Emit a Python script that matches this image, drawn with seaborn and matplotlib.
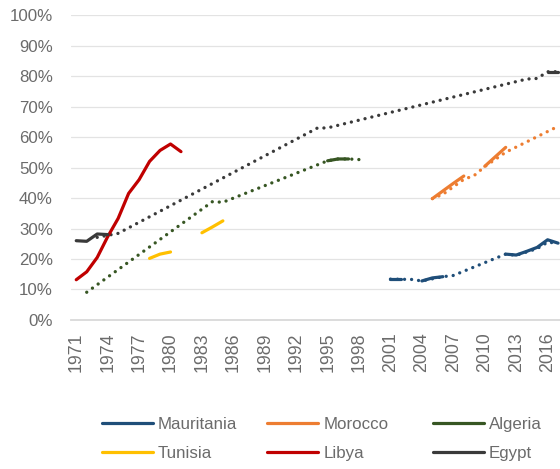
import pandas as pd
import matplotlib.pyplot as plt
import seaborn as sns
from matplotlib.lines import Line2D
from matplotlib.ticker import FuncFormatter

sns.set_theme(style="white")
plt.rcParams['font.family'] = ['Liberation Sans', 'DejaVu Sans']

# observed values (solid lines), percent
mau_years = [2001, 2002, 2004, 2005, 2006, 2012, 2013, 2014, 2015, 2016, 2017]
mau_vals = [13.4, 13.4, 12.8, 13.8, 14.2, 21.6, 21.3, 22.5, 23.8, 26.3, 25.2]
mor_years = [2005, 2006, 2007, 2008, 2010, 2011, 2012]
mor_vals = [39.8, 42.3, 44.8, 47.2, 50.4, 53.5, 56.6]
alg_years = [1995, 1996, 1997]
alg_vals = [52.2, 52.8, 52.8]
tun_years = [1978, 1979, 1980, 1983, 1984, 1985]
tun_vals = [20.2, 21.6, 22.3, 28.6, 30.5, 32.5]
lib_years = [1971, 1972, 1973, 1974, 1975, 1976, 1977, 1978, 1979, 1980, 1981]
lib_vals = [13.2, 15.8, 20.5, 27.3, 33.3, 41.5, 46.0, 52.0, 55.6, 57.7, 55.2]
egy_years = [1971, 1972, 1973, 1974, 2016, 2017]
egy_vals = [26.0, 25.8, 28.2, 28.0, 81.4, 81.4]

# estimates bridging the gaps (dotted lines), percent
mau_dot_years = [2001, 2003, 2004, 2006, 2007, 2012, 2013, 2015, 2016, 2017]
mau_dot_vals = [13.4, 13.3, 12.8, 14.2, 14.6, 21.6, 21.2, 23.4, 25.5, 25.2]
mor_dot_years = [2005, 2006, 2008, 2009, 2010, 2012, 2017]
mor_dot_vals = [39.8, 41.2, 46.1, 47.4, 50.3, 55.0, 63.5]
alg_dot_years = [1972, 1984, 1985, 1995, 1996, 1997, 1998]
alg_dot_vals = [9.1, 38.8, 38.6, 52.2, 52.8, 52.8, 52.6]
egy_dot_years = [1973, 1975, 1994, 1995, 2014, 2015, 2016, 2017]
egy_dot_vals = [27.1, 28.4, 62.9, 63.0, 79.0, 79.2, 81.4, 81.4]

countries = ['Mauritania', 'Morocco', 'Algeria', 'Tunisia', 'Libya', 'Egypt']
colors = ['#1F4E79', '#ED7D31', '#375623', '#FFC000', '#C00000', '#3A3A3A']
palette = dict(zip(countries, colors))

solid_src = {
    'Mauritania': (mau_years, mau_vals),
    'Morocco': (mor_years, mor_vals),
    'Algeria': (alg_years, alg_vals),
    'Tunisia': (tun_years, tun_vals),
    'Libya': (lib_years, lib_vals),
    'Egypt': (egy_years, egy_vals),
}
dot_src = {
    'Mauritania': (mau_dot_years, mau_dot_vals),
    'Morocco': (mor_dot_years, mor_dot_vals),
    'Algeria': (alg_dot_years, alg_dot_vals),
    'Egypt': (egy_dot_years, egy_dot_vals),
}

rows = []
for c, (ys, vs) in solid_src.items():
    seg = 0
    for i, (y, v) in enumerate(zip(ys, vs)):
        if i > 0 and y - ys[i - 1] > 1:
            seg += 1
        rows.append({'country': c, 'year': y, 'value': v, 'seg': seg})
solid = pd.DataFrame(rows)

dots = pd.DataFrame([{'country': c, 'year': y, 'value': v}
                     for c, (ys, vs) in dot_src.items() for y, v in zip(ys, vs)])

fig = plt.figure(figsize=(5.6, 4.69), dpi=100)
ax = fig.add_axes([0.1268, 0.3177, 0.8791, 0.6503])

sns.lineplot(data=dots, x='year', y='value', hue='country', palette=palette,
             estimator=None, linewidth=2.4, linestyle=(0, (0.01, 2.1)),
             dash_capstyle='round', legend=False, ax=ax)
sns.lineplot(data=solid, x='year', y='value', hue='country', units='seg',
             palette=palette, estimator=None, linewidth=2.3,
             solid_capstyle='round', legend=False, ax=ax)

ax.set_xlim(1970.5, 2017.5)
ax.set_ylim(0, 100)
ax.set_xticks(range(1971, 2017, 3))
ax.set_yticks(range(0, 101, 10))
ax.yaxis.set_major_formatter(FuncFormatter(lambda v, p: f'{v:.0f}%'))
ax.set_xlabel('')
ax.set_ylabel('')
ax.grid(axis='y', color='#E3E3E3', linewidth=0.9)
ax.set_axisbelow(True)
sns.despine(ax=ax, left=True)
ax.spines['bottom'].set_color('#D9D9D9')
ax.spines['bottom'].set_linewidth(1.3)
ax.tick_params(axis='x', length=0, pad=9, labelsize=12.8, labelcolor='#6B6B6B', rotation=90)
ax.tick_params(axis='y', length=0, pad=13, labelsize=12.2, labelcolor='#6B6B6B')

cols = [(0.1816, ['Mauritania', 'Tunisia']),
        (0.4773, ['Morocco', 'Libya']),
        (0.7732, ['Algeria', 'Egypt'])]
for x, names in cols:
    handles = [Line2D([], [], color=palette[n], linewidth=2.3) for n in names]
    fig.legend(handles, names, loc='center left', bbox_to_anchor=(x, 0.0646),
               frameon=False, borderpad=0, borderaxespad=0, handlelength=3.0,
               handletextpad=0.3, labelspacing=0.85, fontsize=12.2,
               labelcolor='#6B6B6B')

fig.savefig('out.png', dpi=100)
